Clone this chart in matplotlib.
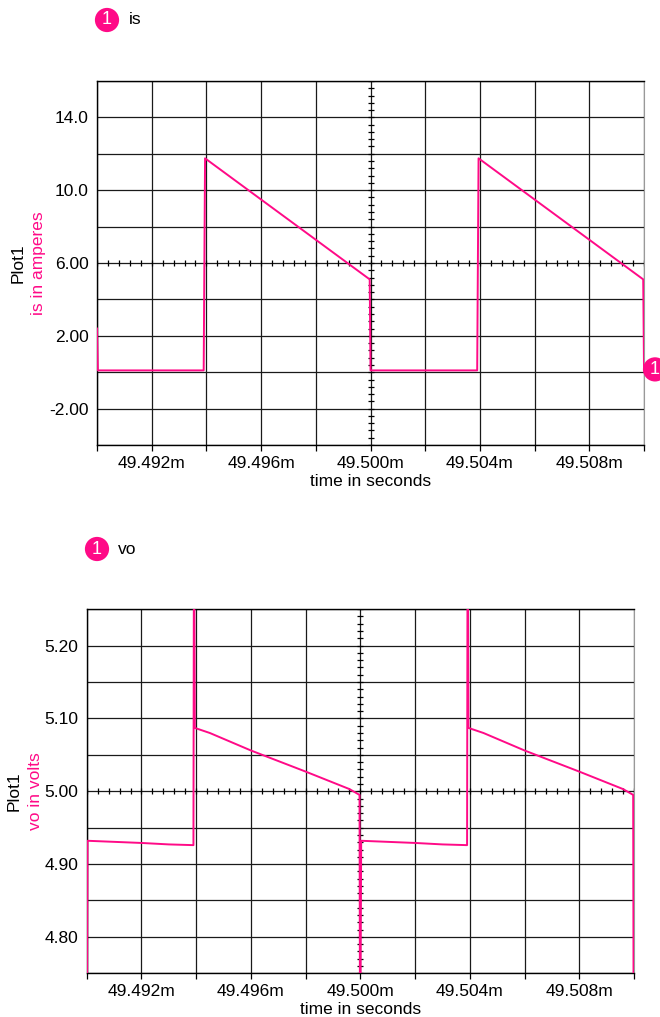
import numpy as np
import matplotlib.pyplot as plt
from matplotlib.ticker import MultipleLocator, FuncFormatter

plt.rcParams['font.family'] = ['Liberation Sans', 'DejaVu Sans']

PINK = '#ff0a87'

# time axis in milliseconds
t_is = [49.490, 49.49003, 49.4939, 49.49395, 49.49997, 49.50000,
        49.5039, 49.50395, 49.50997, 49.5100]
is_amps = [2.40, 0.10, 0.10, 11.75, 5.10, 0.10,
           0.10, 11.75, 5.10, 0.10]

t_vo = [49.490, 49.49003, 49.492, 49.493, 49.4939, 49.49392, 49.49395,
        49.4945, 49.496, 49.498, 49.4996, 49.49997, 49.49999, 49.50003,
        49.502, 49.503, 49.5039, 49.50392, 49.50395, 49.5045, 49.506,
        49.508, 49.5096, 49.50997, 49.50999]
vo_volts = [4.60, 4.932, 4.929, 4.927, 4.926, 5.40, 5.087,
            5.080, 5.056, 5.027, 5.003, 4.995, 4.60, 4.932,
            4.929, 4.927, 4.926, 5.40, 5.087, 5.080, 5.056,
            5.027, 5.003, 4.995, 4.60]

x_labels = [49.492, 49.496, 49.500, 49.504, 49.508]
is_labels = [14.0, 10.0, 6.0, 2.0, -2.0]
vo_labels = [5.20, 5.10, 5.00, 4.90, 4.80]

fig = plt.figure(figsize=(6.6, 10.17), dpi=100)
ax1 = fig.add_axes([0.147, 0.5624, 0.8288, 0.358])
ax2 = fig.add_axes([0.1314, 0.04297, 0.8292, 0.358])


def fmt_is(v, pos):
    for lab in is_labels:
        if abs(v - lab) < 1e-6:
            return f'{v:.1f}' if abs(v) >= 10 else f'{v:.2f}'
    return ''


def fmt_vo(v, pos):
    for lab in vo_labels:
        if abs(v - lab) < 1e-6:
            return f'{v:.2f}'
    return ''


def fmt_x(v, pos):
    for lab in x_labels:
        if abs(v - lab) < 1e-7:
            return f'{v:.3f}m'
    return ''


def style_axes(ax, ylim, ystep, ycross, yfmt):
    ax.set_xlim(49.490, 49.510)
    ax.set_ylim(*ylim)
    ax.xaxis.set_major_locator(MultipleLocator(0.002))
    ax.yaxis.set_major_locator(MultipleLocator(ystep))
    ax.xaxis.set_major_formatter(FuncFormatter(fmt_x))
    ax.yaxis.set_major_formatter(FuncFormatter(yfmt))
    ax.grid(True, color='#1a1a1a', linewidth=0.9)
    ax.set_axisbelow(True)
    ax.tick_params(axis='x', direction='out', length=4, width=0.9,
                   labelsize=12.5, pad=4)
    ax.tick_params(axis='y', length=0, labelsize=12.5, pad=6)
    for s in ['left', 'top', 'bottom']:
        ax.spines[s].set_linewidth(1.0)
    ax.spines['right'].set_color('#999999')

    # small ticks along the centre crosshair
    xs = np.arange(49.490, 49.5101, 0.0004)
    ax.plot(xs, np.full(len(xs), ycross), linestyle='none', marker='|',
            color='black', markersize=5, markeredgewidth=0.9, zorder=1)
    ys = np.arange(ylim[0], ylim[1] + 1e-9, ystep / 5)
    ax.plot(np.full(len(ys), 49.500), ys, linestyle='none', marker='_',
            color='black', markersize=5, markeredgewidth=0.9, zorder=1)

    ax.set_xlabel('time in seconds', fontsize=12.5, labelpad=2)


style_axes(ax1, (-4, 16), 2, 6, fmt_is)
style_axes(ax2, (4.75, 5.25), 0.05, 5.00, fmt_vo)

ax1.plot(t_is, is_amps, color=PINK, linewidth=1.4, zorder=3)
ax2.plot(t_vo, vo_volts, color=PINK, linewidth=1.4, zorder=3)

badge = dict(boxstyle='circle,pad=0.2', fc=PINK, ec='none')

# end-of-trace marker on the current plot
ax1.annotate('1', xy=(t_is[-1], is_amps[-1]), xytext=(11, 1),
             textcoords='offset pixels', color='white', fontsize=13,
             ha='center', va='center', annotation_clip=False, bbox=badge)

# y axis titles: plot name in black, trace/unit in pink
fig.text(18 / 660, 1 - 263 / 1017, 'Plot1', rotation=90, fontsize=12.5,
         ha='center', va='center')
fig.text(38.5 / 660, 1 - 263 / 1017, 'is in amperes', rotation=90,
         fontsize=12.5, color=PINK, ha='center', va='center')
fig.text(14.5 / 660, 1 - 791 / 1017, 'Plot1', rotation=90, fontsize=12.5,
         ha='center', va='center')
fig.text(36 / 660, 1 - 791 / 1017, 'vo in volts', rotation=90,
         fontsize=12.5, color=PINK, ha='center', va='center')

# trace legends
for cx, cy, tx, label in [(107, 20, 129, 'is'), (97, 549, 118, 'vo')]:
    fig.text(cx / 660, 1 - cy / 1017, '1', color='white', fontsize=13,
             ha='center', va='center', bbox=badge)
    fig.text(tx / 660, 1 - cy / 1017, label, fontsize=12.5,
             ha='left', va='center')

fig.savefig('out.png', dpi=100)
